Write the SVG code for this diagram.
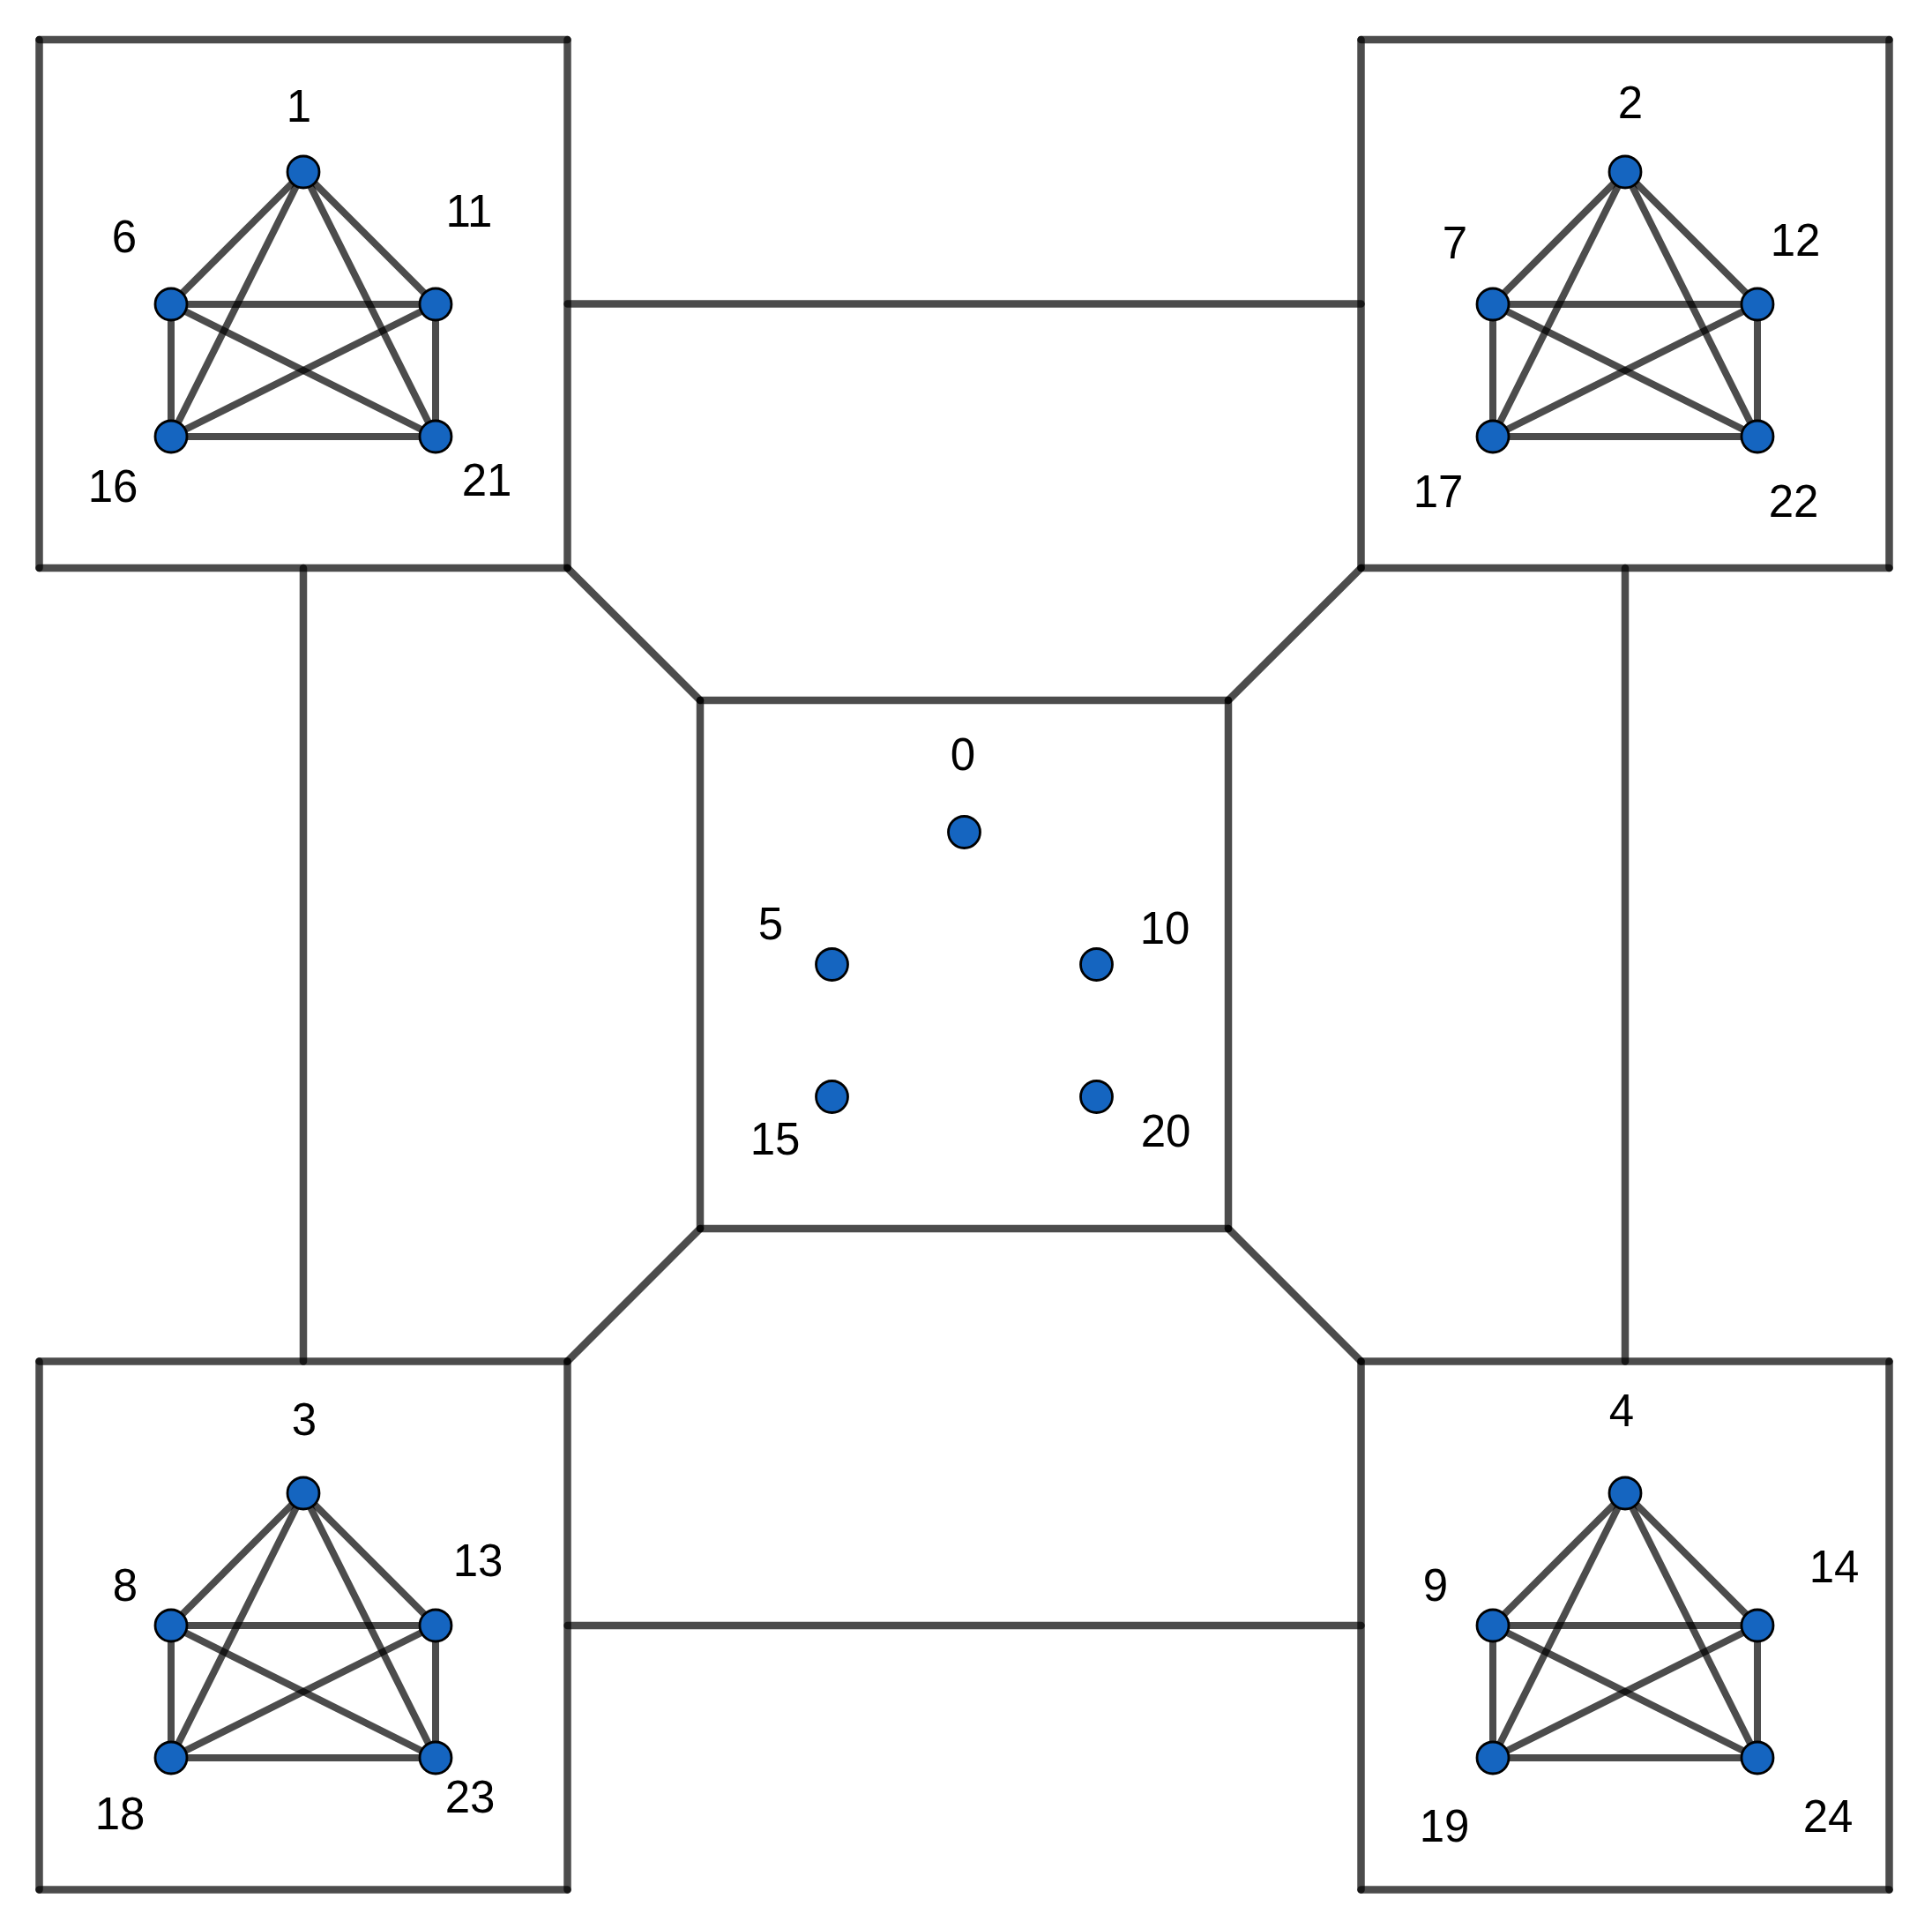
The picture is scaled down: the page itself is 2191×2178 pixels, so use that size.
<svg xmlns="http://www.w3.org/2000/svg" width="2191" height="2178" viewBox="0 0 2191 2178">
<style>
.ln{stroke:#000;stroke-opacity:0.7;stroke-width:8.5;stroke-linecap:round;fill:none}
.ed line{stroke:#000;stroke-opacity:0.7;stroke-width:8;stroke-linecap:round;fill:none}
.nd{fill:#1565c0;stroke:#000;stroke-width:2.8}
.lb{font-family:"Liberation Sans",Arial,sans-serif;font-size:51px;fill:#000;text-anchor:middle}
</style>
<rect width="2191" height="2178" fill="#fff"/>
<g id="box-tl">
<line class="ln" x1="44.5" y1="45" x2="643.5" y2="45"/>
<line class="ln" x1="643.5" y1="45" x2="643.5" y2="644"/>
<line class="ln" x1="643.5" y1="644" x2="44.5" y2="644"/>
<line class="ln" x1="44.5" y1="644" x2="44.5" y2="45"/>
</g>
<g id="box-tr">
<line class="ln" x1="1543.5" y1="45" x2="2142.5" y2="45"/>
<line class="ln" x1="2142.5" y1="45" x2="2142.5" y2="644"/>
<line class="ln" x1="2142.5" y1="644" x2="1543.5" y2="644"/>
<line class="ln" x1="1543.5" y1="644" x2="1543.5" y2="45"/>
</g>
<g id="box-c">
<line class="ln" x1="794" y1="794" x2="1393" y2="794"/>
<line class="ln" x1="1393" y1="794" x2="1393" y2="1393"/>
<line class="ln" x1="1393" y1="1393" x2="794" y2="1393"/>
<line class="ln" x1="794" y1="1393" x2="794" y2="794"/>
</g>
<g id="box-bl">
<line class="ln" x1="44.5" y1="1543.5" x2="643.5" y2="1543.5"/>
<line class="ln" x1="643.5" y1="1543.5" x2="643.5" y2="2142.5"/>
<line class="ln" x1="643.5" y1="2142.5" x2="44.5" y2="2142.5"/>
<line class="ln" x1="44.5" y1="2142.5" x2="44.5" y2="1543.5"/>
</g>
<g id="box-br">
<line class="ln" x1="1543.5" y1="1543.5" x2="2142.5" y2="1543.5"/>
<line class="ln" x1="2142.5" y1="1543.5" x2="2142.5" y2="2142.5"/>
<line class="ln" x1="2142.5" y1="2142.5" x2="1543.5" y2="2142.5"/>
<line class="ln" x1="1543.5" y1="2142.5" x2="1543.5" y2="1543.5"/>
</g>
<g id="connectors">
<line class="ln" x1="643.5" y1="344.5" x2="1543.5" y2="344.5"/>
<line class="ln" x1="643.5" y1="1843" x2="1543.5" y2="1843"/>
<line class="ln" x1="344" y1="644" x2="344" y2="1543.5"/>
<line class="ln" x1="1843" y1="644" x2="1843" y2="1543.5"/>
<line class="ln" x1="643.5" y1="644" x2="794" y2="794"/>
<line class="ln" x1="1543.5" y1="644" x2="1393" y2="794"/>
<line class="ln" x1="643.5" y1="1543.5" x2="794" y2="1393"/>
<line class="ln" x1="1543.5" y1="1543.5" x2="1393" y2="1393"/>
<g class="ed" id="edges-tl">
<line x1="344" y1="195" x2="194" y2="345"/><line x1="344" y1="195" x2="494" y2="345"/><line x1="344" y1="195" x2="194" y2="495"/><line x1="344" y1="195" x2="494" y2="495"/>
<line x1="194" y1="345" x2="494" y2="345"/><line x1="194" y1="345" x2="194" y2="495"/><line x1="194" y1="345" x2="494" y2="495"/>
<line x1="494" y1="345" x2="194" y2="495"/><line x1="494" y1="345" x2="494" y2="495"/><line x1="194" y1="495" x2="494" y2="495"/>
</g>
<g class="ed" id="edges-tr">
<line x1="1843" y1="195" x2="1693" y2="345"/><line x1="1843" y1="195" x2="1993" y2="345"/><line x1="1843" y1="195" x2="1693" y2="495"/><line x1="1843" y1="195" x2="1993" y2="495"/>
<line x1="1693" y1="345" x2="1993" y2="345"/><line x1="1693" y1="345" x2="1693" y2="495"/><line x1="1693" y1="345" x2="1993" y2="495"/>
<line x1="1993" y1="345" x2="1693" y2="495"/><line x1="1993" y1="345" x2="1993" y2="495"/><line x1="1693" y1="495" x2="1993" y2="495"/>
</g>
<g class="ed" id="edges-bl">
<line x1="344" y1="1693" x2="194" y2="1843"/><line x1="344" y1="1693" x2="494" y2="1843"/><line x1="344" y1="1693" x2="194" y2="1993"/><line x1="344" y1="1693" x2="494" y2="1993"/>
<line x1="194" y1="1843" x2="494" y2="1843"/><line x1="194" y1="1843" x2="194" y2="1993"/><line x1="194" y1="1843" x2="494" y2="1993"/>
<line x1="494" y1="1843" x2="194" y2="1993"/><line x1="494" y1="1843" x2="494" y2="1993"/><line x1="194" y1="1993" x2="494" y2="1993"/>
</g>
<g class="ed" id="edges-br">
<line x1="1843" y1="1693" x2="1693" y2="1843"/><line x1="1843" y1="1693" x2="1993" y2="1843"/><line x1="1843" y1="1693" x2="1693" y2="1993"/><line x1="1843" y1="1693" x2="1993" y2="1993"/>
<line x1="1693" y1="1843" x2="1993" y2="1843"/><line x1="1693" y1="1843" x2="1693" y2="1993"/><line x1="1693" y1="1843" x2="1993" y2="1993"/>
<line x1="1993" y1="1843" x2="1693" y2="1993"/><line x1="1993" y1="1843" x2="1993" y2="1993"/><line x1="1693" y1="1993" x2="1993" y2="1993"/>
</g>
</g>
<g id="n0"><circle class="nd" cx="1093.5" cy="943.5" r="18"/><text class="lb" x="1092" y="873">0</text></g>
<g id="n5"><circle class="nd" cx="943.5" cy="1093.5" r="18"/><text class="lb" x="874" y="1065">5</text></g>
<g id="n10"><circle class="nd" cx="1243.5" cy="1093.5" r="18"/><text class="lb" x="1321" y="1070">10</text></g>
<g id="n15"><circle class="nd" cx="943.5" cy="1243.5" r="18"/><text class="lb" x="879" y="1309">15</text></g>
<g id="n20"><circle class="nd" cx="1243.5" cy="1243.5" r="18"/><text class="lb" x="1322" y="1300">20</text></g>
<g id="n1"><circle class="nd" cx="344" cy="195" r="18"/><text class="lb" x="339" y="138">1</text></g>
<g id="n6"><circle class="nd" cx="194" cy="345" r="18"/><text class="lb" x="141" y="286">6</text></g>
<g id="n11"><circle class="nd" cx="494" cy="345" r="18"/><text class="lb" x="532" y="257">11</text></g>
<g id="n16"><circle class="nd" cx="194" cy="495" r="18"/><text class="lb" x="128" y="569">16</text></g>
<g id="n21"><circle class="nd" cx="494" cy="495" r="18"/><text class="lb" x="552" y="562">21</text></g>
<g id="n2"><circle class="nd" cx="1843" cy="195" r="18"/><text class="lb" x="1849" y="134">2</text></g>
<g id="n7"><circle class="nd" cx="1693" cy="345" r="18"/><text class="lb" x="1650" y="293">7</text></g>
<g id="n12"><circle class="nd" cx="1993" cy="345" r="18"/><text class="lb" x="2036" y="290">12</text></g>
<g id="n17"><circle class="nd" cx="1693" cy="495" r="18"/><text class="lb" x="1631" y="575">17</text></g>
<g id="n22"><circle class="nd" cx="1993" cy="495" r="18"/><text class="lb" x="2034" y="586">22</text></g>
<g id="n3"><circle class="nd" cx="344" cy="1693" r="18"/><text class="lb" x="345" y="1627">3</text></g>
<g id="n8"><circle class="nd" cx="194" cy="1843" r="18"/><text class="lb" x="142" y="1815">8</text></g>
<g id="n13"><circle class="nd" cx="494" cy="1843" r="18"/><text class="lb" x="542" y="1787">13</text></g>
<g id="n18"><circle class="nd" cx="194" cy="1993" r="18"/><text class="lb" x="136" y="2074">18</text></g>
<g id="n23"><circle class="nd" cx="494" cy="1993" r="18"/><text class="lb" x="533" y="2055">23</text></g>
<g id="n4"><circle class="nd" cx="1843" cy="1693" r="18"/><text class="lb" x="1839" y="1617">4</text></g>
<g id="n9"><circle class="nd" cx="1693" cy="1843" r="18"/><text class="lb" x="1628" y="1815">9</text></g>
<g id="n14"><circle class="nd" cx="1993" cy="1843" r="18"/><text class="lb" x="2080" y="1794">14</text></g>
<g id="n19"><circle class="nd" cx="1693" cy="1993" r="18"/><text class="lb" x="1638" y="2088">19</text></g>
<g id="n24"><circle class="nd" cx="1993" cy="1993" r="18"/><text class="lb" x="2073" y="2077">24</text></g>
</svg>
